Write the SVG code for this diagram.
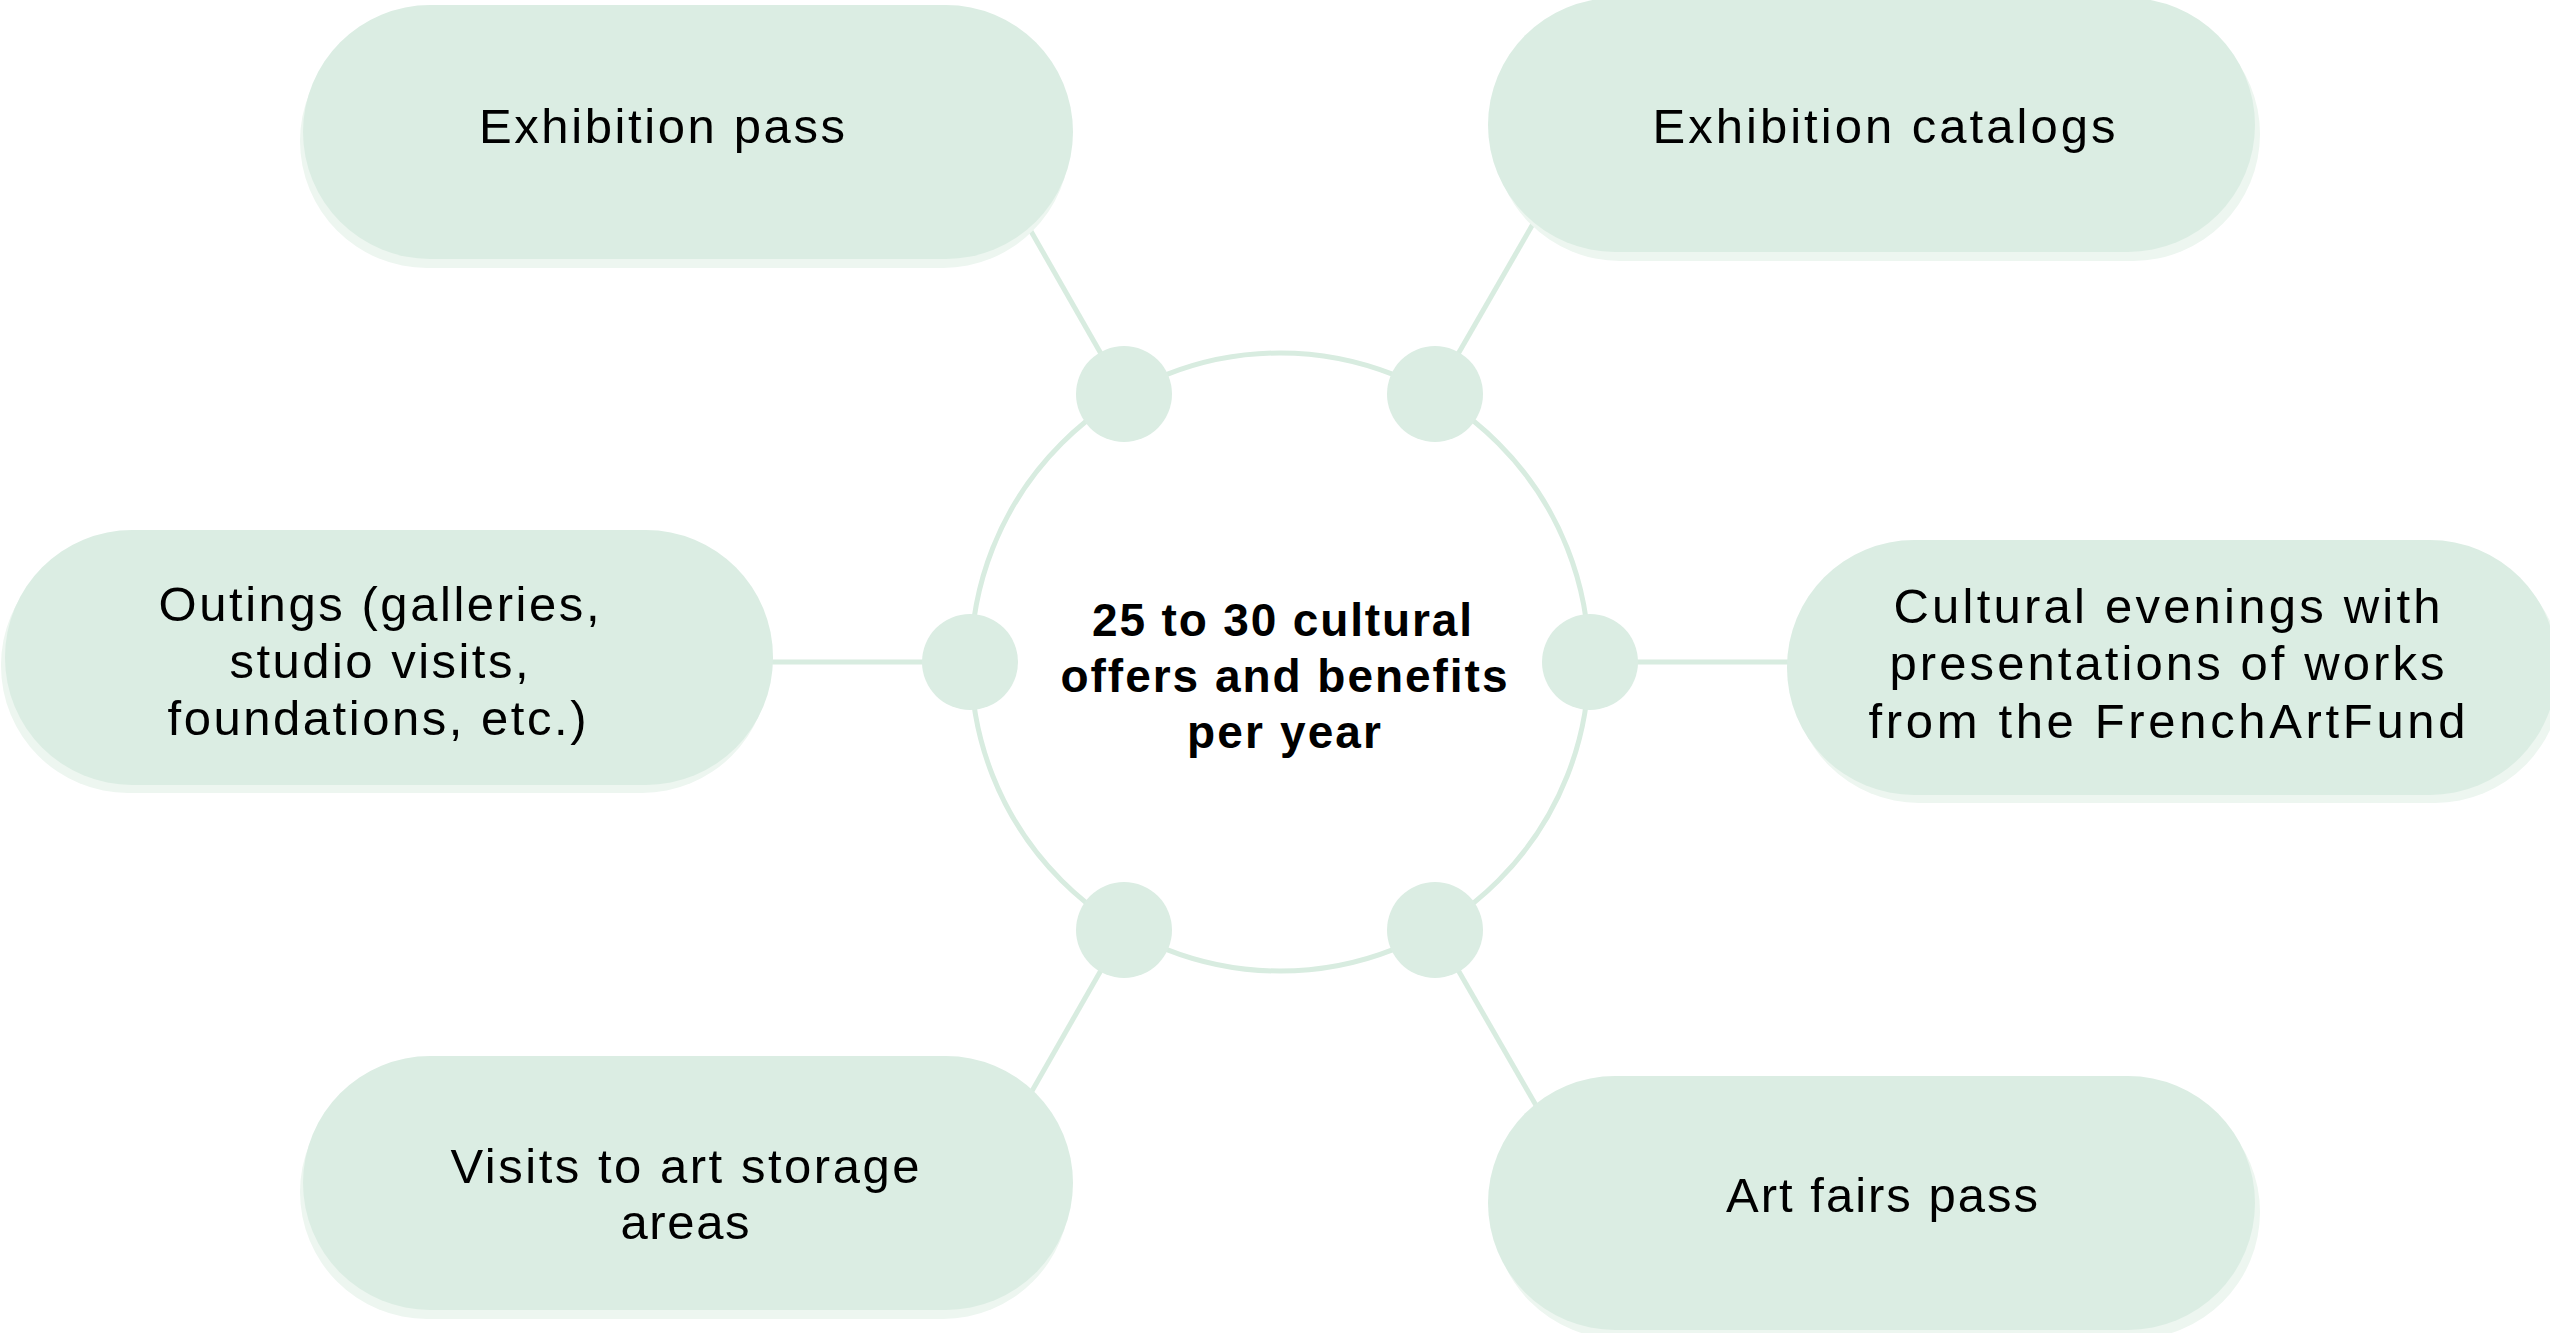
<svg xmlns="http://www.w3.org/2000/svg" width="2550" height="1333" viewBox="0 0 2550 1333">
<style>
.pill{fill:#dbede3}
.shadow{fill:#edf6f0}
.conn{stroke:#d8ece0;stroke-width:5;fill:none}
.dot{fill:#dbede3}
.ring{fill:#ffffff;stroke:#d8ece0;stroke-width:5}
.lbl{font-family:"Liberation Sans",Arial,sans-serif;font-size:49px;fill:#000;text-anchor:middle}
.ctr{font-family:"Liberation Sans",Arial,sans-serif;font-size:46px;font-weight:bold;fill:#000;text-anchor:middle}
</style>
<rect width="2550" height="1333" fill="#ffffff"/>
<g id="connectors">
<line class="conn" x1="1124" y1="394" x2="1000" y2="177"/>
<line class="conn" x1="1435" y1="394" x2="1560" y2="177"/>
<line class="conn" x1="970" y1="662" x2="700" y2="662"/>
<line class="conn" x1="1590" y1="662" x2="1850" y2="662"/>
<line class="conn" x1="1124" y1="930" x2="1000" y2="1147"/>
<line class="conn" x1="1435" y1="930" x2="1560" y2="1147"/>
</g>
<g id="node-exhibition-pass">
<rect class="shadow" x="300" y="14" width="770" height="254" rx="127"/>
<rect class="pill" x="303" y="5" width="770" height="254" rx="127"/>
<text class="lbl" x="662" y="143" textLength="366">Exhibition pass</text>
</g>
<g id="node-exhibition-catalogs">
<rect class="shadow" x="1493" y="7" width="767" height="254" rx="127"/>
<rect class="pill" x="1488" y="-2" width="767" height="254" rx="127"/>
<text class="lbl" x="1884" y="143" textLength="463">Exhibition catalogs</text>
</g>
<g id="node-outings">
<rect class="shadow" x="1" y="538" width="768" height="255" rx="127"/>
<rect class="pill" x="5" y="530" width="768" height="255" rx="127"/>
<text class="lbl" x="379" y="621" textLength="441">Outings (galleries,</text>
<text class="lbl" x="379" y="678" textLength="299">studio visits,</text>
<text class="lbl" x="377" y="735" textLength="419">foundations, etc.)</text>
</g>
<g id="node-cultural-evenings">
<rect class="shadow" x="1792" y="548" width="770" height="255" rx="127"/>
<rect class="pill" x="1787" y="540" width="770" height="255" rx="127"/>
<text class="lbl" x="2167" y="623" textLength="547">Cultural evenings with</text>
<text class="lbl" x="2167" y="680" textLength="555">presentations of works</text>
<text class="lbl" x="2167" y="738" textLength="597">from the FrenchArtFund</text>
</g>
<g id="node-visits">
<rect class="shadow" x="300" y="1065" width="770" height="254" rx="127"/>
<rect class="pill" x="303" y="1056" width="770" height="254" rx="127"/>
<text class="lbl" x="685" y="1183" textLength="469">Visits to art storage</text>
<text class="lbl" x="685" y="1239" textLength="129">areas</text>
</g>
<g id="node-art-fairs">
<rect class="shadow" x="1493" y="1085" width="767" height="254" rx="127"/>
<rect class="pill" x="1488" y="1076" width="767" height="254" rx="127"/>
<text class="lbl" x="1882" y="1212" textLength="312">Art fairs pass</text>
</g>
<g id="node-center">
<circle class="ring" cx="1280" cy="662" r="309"/>
<circle class="dot" cx="1124" cy="394" r="48"/>
<circle class="dot" cx="1435" cy="394" r="48"/>
<circle class="dot" cx="970" cy="662" r="48"/>
<circle class="dot" cx="1590" cy="662" r="48"/>
<circle class="dot" cx="1124" cy="930" r="48"/>
<circle class="dot" cx="1435" cy="930" r="48"/>
<text class="ctr" x="1282" y="636" textLength="380">25 to 30 cultural</text>
<text class="ctr" x="1284" y="692" textLength="447">offers and benefits</text>
<text class="ctr" x="1284" y="748" textLength="194">per year</text>
</g>
</svg>
